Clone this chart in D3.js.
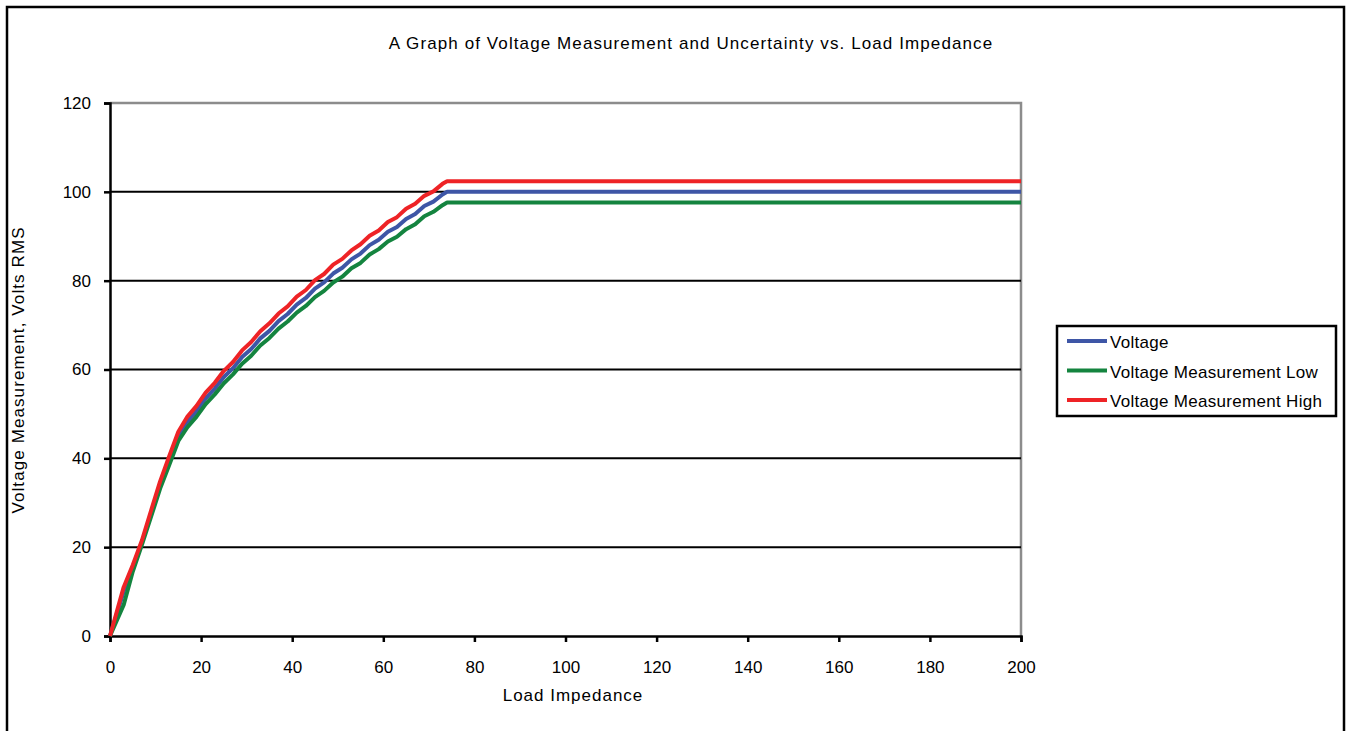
<!DOCTYPE html>
<html lang="en">
<head>
    <meta charset="UTF-8">
    <title>Voltage vs Load Impedance</title>
    <script src="https://d3js.org/d3.v7.min.js"></script>
    <style>
        body { margin: 0; background: #fff; }
        text { font-family: Arial, "Liberation Sans", sans-serif; fill: #000; }
    </style>
</head>
<body>
<script>
    // load impedance values (x)
    var impedance = [0, 3, 5, 7, 9, 11, 13, 15,
        17, 19, 21, 23, 25, 27, 29, 31, 33, 35,
        37, 39, 41, 43, 45, 47, 49, 51, 53, 55,
        57, 59, 61, 63, 65, 67, 69, 71, 73,
        74, 200];

    var voltage = [0, 10, 15.5, 21, 27.5, 34, 39.5, 45,
        48.2, 50.6, 53.5, 55.7, 58.3, 60.3, 62.8, 64.6, 67.0, 68.7,
        70.9, 72.5, 74.6, 76.1, 78.2, 79.6, 81.6, 82.9, 84.8, 86.1,
        88.0, 89.2, 91.0, 92.1, 93.9, 95.0, 96.8, 97.8, 99.4,
        100, 100];

    var voltageLow = [0, 7, 14.5, 20.5, 26.8, 33.2, 38.5, 43.9,
        47.0, 49.4, 52.2, 54.4, 56.9, 58.9, 61.3, 63.1, 65.4, 67.1,
        69.2, 70.8, 72.8, 74.3, 76.3, 77.7, 79.6, 80.9, 82.8, 84.0,
        85.9, 87.1, 88.8, 89.9, 91.6, 92.7, 94.5, 95.5, 97.0,
        97.6, 97.6];

    var voltageHigh = [0, 11, 16, 21.5, 28.2, 34.8, 40.5, 46,
        49.4, 51.8, 54.8, 57.0, 59.7, 61.7, 64.3, 66.2, 68.6, 70.4,
        72.6, 74.2, 76.4, 77.9, 80.1, 81.5, 83.6, 84.9, 86.8, 88.2,
        90.1, 91.3, 93.2, 94.3, 96.2, 97.3, 99.1, 100.1, 101.8,
        102.4, 102.4];

    var seriesNames = ["Voltage", "Voltage Measurement Low", "Voltage Measurement High"];
    var seriesColors = ["#3E56A6", "#14843F", "#EE2326"];

    var xTicks = [0, 20, 40, 60, 80, 100, 120, 140, 160, 180, 200];
    var yTicks = [0, 20, 40, 60, 80, 100, 120];

    var margin = {top: 103, left: 110},
        width = 911,
        height = 533;

    var svg = d3.select("body").append("svg")
        .attr("width", 1348)
        .attr("height", 731);

    // chart border
    svg.append("rect")
        .attr("x", 7).attr("y", 7)
        .attr("width", 1337).attr("height", 800)
        .attr("fill", "none")
        .attr("stroke", "#000")
        .attr("stroke-width", 2.5);

    // title
    svg.append("text")
        .attr("x", 691)
        .attr("y", 49)
        .attr("text-anchor", "middle")
        .style("font-size", "17px")
        .style("letter-spacing", "1.1px")
        .text("A Graph of Voltage Measurement and Uncertainty vs. Load Impedance");

    var g = svg.append("g")
        .attr("transform", "translate(" + margin.left + "," + margin.top + ")");

    var x = d3.scaleLinear().domain([0, 200]).range([0, width]);
    var y = d3.scaleLinear().domain([0, 120]).range([height, 0]);

    // plot area border (grey top & right)
    g.append("path")
        .attr("d", "M0,0H" + width + "V" + height)
        .attr("fill", "none")
        .attr("stroke", "#8c8c8c")
        .attr("stroke-width", 2.5);

    // gridlines
    g.selectAll(".grid")
        .data(yTicks.filter(function(d) { return d > 0 && d < 120; }))
        .enter().append("line")
        .attr("class", "grid")
        .attr("x1", 0).attr("x2", width)
        .attr("y1", function(d) { return y(d); })
        .attr("y2", function(d) { return y(d); })
        .attr("stroke", "#000")
        .attr("stroke-width", 2);

    // x axis
    var xAxis = g.append("g")
        .attr("transform", "translate(0," + height + ")")
        .call(d3.axisBottom(x).tickValues(xTicks).tickSize(6).tickPadding(19).tickFormat(d3.format("d")));
    xAxis.select(".domain").attr("stroke", "#000").attr("stroke-width", 2.5);
    xAxis.selectAll(".tick line").attr("stroke", "#000").attr("stroke-width", 2.5);
    xAxis.selectAll("text").style("font-size", "17px").attr("font-family", null);

    // y axis
    var yAxis = g.append("g")
        .call(d3.axisLeft(y).tickValues(yTicks).tickSize(6).tickPadding(13).tickFormat(d3.format("d")));
    yAxis.select(".domain").attr("stroke", "#000").attr("stroke-width", 2.5);
    yAxis.selectAll(".tick line").attr("stroke", "#000").attr("stroke-width", 2.5);
    yAxis.selectAll("text").style("font-size", "17px").attr("font-family", null);

    // axis titles
    svg.append("text")
        .attr("x", 573)
        .attr("y", 701)
        .attr("text-anchor", "middle")
        .style("font-size", "17px")
        .style("letter-spacing", "1px")
        .text("Load Impedance");

    svg.append("text")
        .attr("transform", "translate(24,370) rotate(-90)")
        .attr("text-anchor", "middle")
        .style("font-size", "17px")
        .style("letter-spacing", "1.1px")
        .text("Voltage Measurement,  Volts RMS");

    // lines
    var allSeries = [voltage, voltageLow, voltageHigh];
    var line = d3.line()
        .x(function(d, i) { return x(impedance[i]); })
        .y(function(d) { return y(d); });

    g.selectAll(".series")
        .data(allSeries)
        .enter().append("path")
        .attr("class", "series")
        .attr("d", line)
        .attr("fill", "none")
        .attr("stroke", function(d, i) { return seriesColors[i]; })
        .attr("stroke-width", 4)
        .attr("stroke-linejoin", "round");

    // legend
    var legend = svg.append("g")
        .attr("transform", "translate(1057,326)");

    legend.append("rect")
        .attr("width", 279)
        .attr("height", 90)
        .attr("fill", "#fff")
        .attr("stroke", "#000")
        .attr("stroke-width", 2.5);

    var rows = legend.selectAll(".row")
        .data(seriesNames)
        .enter().append("g")
        .attr("class", "row")
        .attr("transform", function(d, i) { return "translate(0," + (15 + i * 29.5) + ")"; });

    rows.append("line")
        .attr("x1", 10).attr("x2", 50)
        .attr("stroke", function(d, i) { return seriesColors[i]; })
        .attr("stroke-width", 4);

    rows.append("text")
        .attr("x", 53)
        .attr("y", 7)
        .style("font-size", "17px")
        .style("letter-spacing", "0.3px")
        .text(function(d) { return d; });
</script>
</body>
</html>
